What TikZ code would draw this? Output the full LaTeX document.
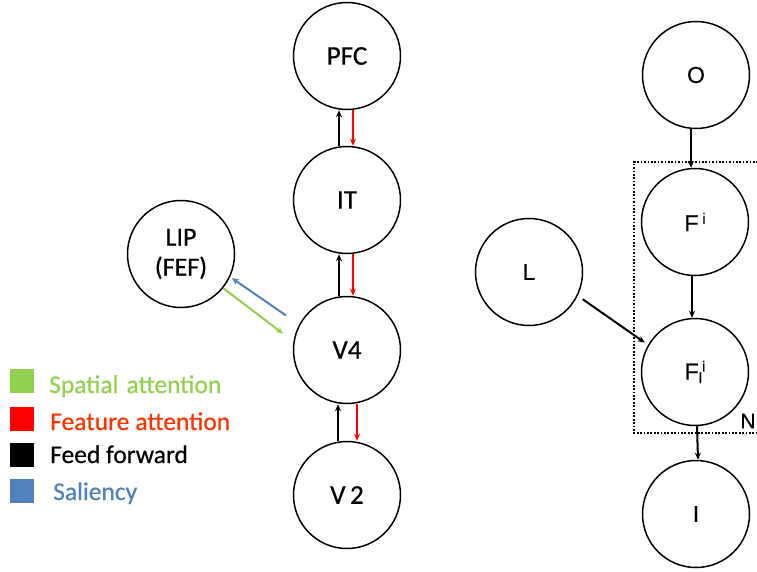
\documentclass[tikz,border=0pt]{standalone}
\usepackage{fontspec}
\setmainfont{Carlito}[FakeBold=0.6]
\newfontfamily\arialfont{Liberation Sans}[FakeBold=0.4]
\usetikzlibrary{arrows.meta}
\definecolor{spgreen}{RGB}{146,208,80}
\definecolor{ftred}{RGB}{255,0,0}
\definecolor{fttext}{RGB}{255,51,0}
\definecolor{salblue}{RGB}{79,129,189}
\begin{document}
\begin{tikzpicture}[x=1pt,y=-1pt,
  region/.style={circle,draw,line width=1.5pt,minimum size=107pt,inner sep=0pt,
    align=center,font=\fontsize{27}{30}\selectfont},
  var/.style={circle,draw,line width=1.5pt,minimum size=107pt,inner sep=0pt,
    font=\arialfont\fontsize{23}{26}\selectfont},
  ff/.style={line width=2pt,-{Stealth[length=7pt,width=6pt]}},
  fa/.style={ff,draw=ftred},
  sa/.style={ff,draw=spgreen},
  sal/.style={ff,draw=salblue},
  legsq/.style={minimum size=24pt,inner sep=0pt},
  legtxt/.style={anchor=base west,inner sep=0pt,font=\fontsize{25.5}{28}\selectfont},
  box/.style={line width=2pt,dash pattern=on 1.7pt off 1.7pt}
]
\useasboundingbox (0,0) rectangle (757,572);

% left network
\node[region] (PFC) at (347,56) {PFC};
\node[region] (IT) at (347,200) {IT};
\node[region] (V4) at (347,350) {V4};
\node[region] (V2) at (347,495) {V\,2};
\node[region,font=\fontsize{26}{30}\selectfont] (LIP) at (181,254) {LIP\\(FEF)};

\draw[ff] ([xshift=-8pt]IT.north) -- ([xshift=-8pt]PFC.south);
\draw[fa] ([xshift=6pt]PFC.south) -- ([xshift=6pt]IT.north);
\draw[ff] ([xshift=-8pt]V4.north) -- ([xshift=-8pt]IT.south);
\draw[fa] ([xshift=6pt]IT.south) -- ([xshift=6pt]V4.north);
\draw[ff] ([xshift=-9pt]V2.north) -- ([xshift=-9pt]V4.south);
\draw[fa] ([xshift=10pt]V4.south) -- ([xshift=10pt]V2.north);

\draw[sa,shorten >=13pt] (LIP.-39) -- (V4.171);
\draw[sal,shorten <=16pt,shorten >=2pt] (V4.152) -- (LIP.-25);

% legend
\node[legsq,fill=spgreen] (sq1) at (22,381) {};
\node[legsq,fill=ftred] (sq2) at (22,419) {};
\node[legsq,fill=black] (sq3) at (22,455) {};
\node[legsq,fill=salblue] (sq4) at (22,491) {};
\node[legtxt,text=spgreen] (t1) at (49,393) {Spatial\hspace{8pt}attention};
\node[legtxt,text=fttext] (t2) at (50,430) {Feature\hspace{6pt}attention};
\node[legtxt,text=black] (t3) at (50,463) {Feed forward};
\node[legtxt,text=salblue] (t4) at (53,500) {Saliency};

% right model
\node[var] (O) at (696,75) {O};
\node[var] (Fi) at (695,222) {F\,\raisebox{0.6ex}{\fontsize{15}{16}\selectfont i}};
\node[var] (Fli) at (695,372) {F\raisebox{-0.3ex}{\fontsize{15}{16}\selectfont l}\raisebox{0.65ex}{\fontsize{15}{16}\selectfont i}};
\node[var] (I) at (696,514) {I};
\node[var] (L) at (529,272) {L};

\draw[box] (758,162) -- (634,162) -- (634,433) -- (758,433);
\node[anchor=center,inner sep=0pt,font=\arialfont\fontsize{21}{24}\selectfont] (N) at (748,421) {N};

\draw[ff] ([xshift=-5pt]O.south) -- ([xshift=-4pt]Fi.north);
\draw[ff] ([xshift=-3pt]Fi.south) -- ([xshift=-3pt]Fli.north);
\draw[ff] ([xshift=2pt]Fli.south) -- ([xshift=2pt]I.north);
\draw[ff,shorten <=6pt,shorten >=4pt] (L.-26) -- (Fli.150);
\end{tikzpicture}
\end{document}
